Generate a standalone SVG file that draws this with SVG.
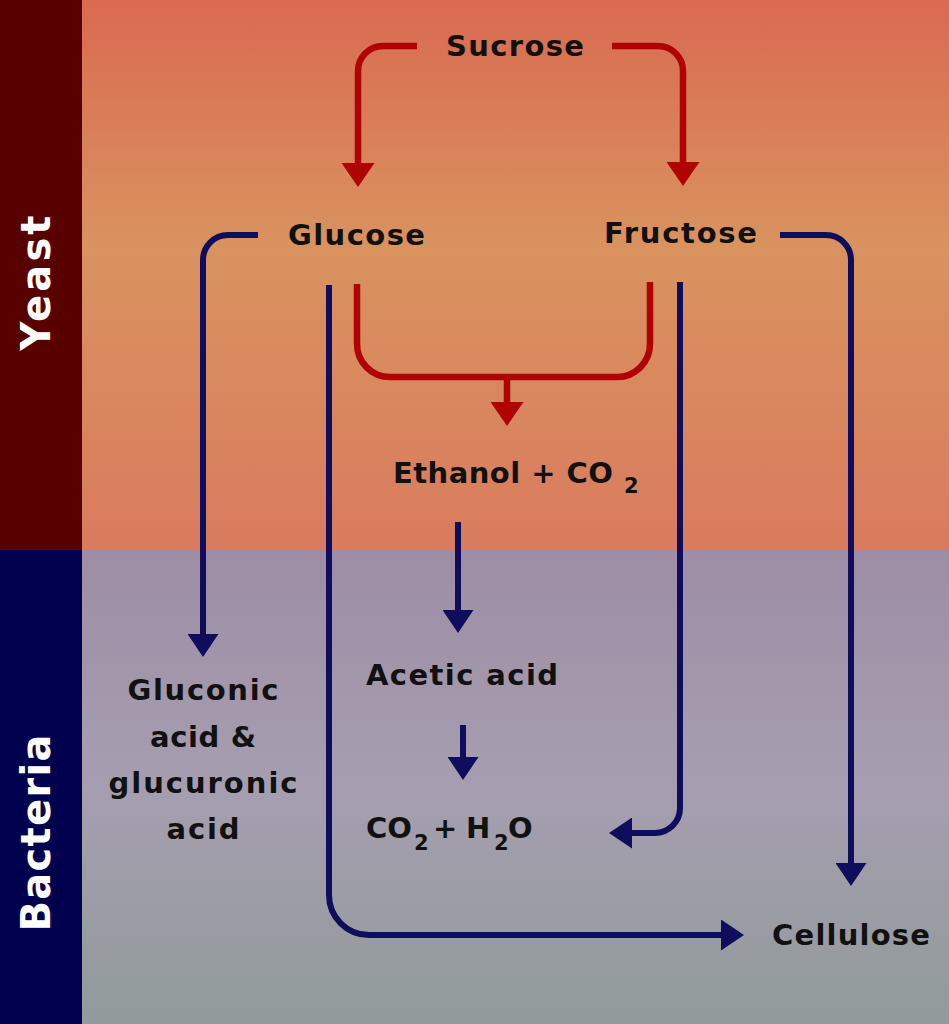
<svg xmlns="http://www.w3.org/2000/svg" width="949" height="1024" viewBox="0 0 949 1024">
<style>
.lbl{font-family:"DejaVu Sans","Open Sans",sans-serif;font-weight:700;font-size:29px;fill:#111}
.sub{font-size:21px}
.side{font-family:"DejaVu Sans","Open Sans",sans-serif;font-weight:700;font-size:40px;fill:#fff}
.red{fill:none;stroke:#b00303;stroke-width:6.5}
.navy{fill:none;stroke:#0e0e5c;stroke-width:6}
</style>
<defs>
<linearGradient id="gY" x1="0" y1="0" x2="0" y2="550" gradientUnits="userSpaceOnUse">
<stop offset="0" stop-color="#d96a51"/>
<stop offset="0.45" stop-color="#d9935f"/>
<stop offset="1" stop-color="#d97b5e"/>
</linearGradient>
<linearGradient id="gB" x1="0" y1="550" x2="0" y2="1024" gradientUnits="userSpaceOnUse">
<stop offset="0" stop-color="#9d8da5"/>
<stop offset="0.5" stop-color="#a69eb0"/>
<stop offset="1" stop-color="#919b9a"/>
</linearGradient>
<marker id="aR" viewBox="0 0 24 33" markerUnits="userSpaceOnUse" markerWidth="24" markerHeight="33" refX="1" refY="16.5" orient="auto">
<path d="M0,0 L24,16.5 L0,33 Z" fill="#b00303"/>
</marker>
<marker id="aN" viewBox="0 0 23 31" markerUnits="userSpaceOnUse" markerWidth="23" markerHeight="31" refX="1" refY="15.5" orient="auto">
<path d="M0,0 L23,15.5 L0,31 Z" fill="#0e0e5c"/>
</marker>
</defs>
<g id="background">
<rect x="82" y="0" width="867" height="550" fill="url(#gY)"/>
<rect x="82" y="550" width="867" height="474" fill="url(#gB)"/>
<rect x="0" y="0" width="82" height="550" fill="#580000"/>
<rect x="0" y="550" width="82" height="474" fill="#00004f"/>
</g>
<g id="side-labels">
<text id="yeast" class="side" text-anchor="middle" transform="translate(50 283) rotate(-90)" textLength="135">Yeast</text>
<text id="bacteria" class="side" text-anchor="middle" transform="translate(50 833) rotate(-90)" textLength="197">Bacteria</text>
</g>
<g id="connectors">
<path class="red" d="M417,46 H383 A25,25 0 0 0 358,71 V164" marker-end="url(#aR)"/>
<path class="red" d="M612,46 H658 A25,25 0 0 1 683,71 V163" marker-end="url(#aR)"/>
<path class="red" d="M357,284 V344 A33,33 0 0 0 390,377 H617 A33,33 0 0 0 650,344 V282"/>
<path class="red" d="M507,377 V403" marker-end="url(#aR)"/>
<path class="navy" d="M258,235 H228 A25,25 0 0 0 203,260 V635" marker-end="url(#aN)"/>
<path class="navy" d="M329,285 V895 A40,40 0 0 0 369,935 H722" marker-end="url(#aN)"/>
<path class="navy" d="M680,282 V808 A25,25 0 0 1 655,833 H631" marker-end="url(#aN)"/>
<path class="navy" d="M780,235 H826 A25,25 0 0 1 851,260 V864" marker-end="url(#aN)"/>
<path class="navy" d="M458,522 V611" marker-end="url(#aN)"/>
<path class="navy" d="M463,725 V758" marker-end="url(#aN)"/>
</g>
<g id="sucrose"><text class="lbl" x="446" y="56" textLength="138">Sucrose</text></g>
<g id="glucose"><text class="lbl" x="288" y="245" textLength="137">Glucose</text></g>
<g id="fructose"><text class="lbl" x="604" y="243" textLength="153">Fructose</text></g>
<g id="ethanol">
<text class="lbl" x="393" y="483" textLength="220">Ethanol + CO</text>
<text class="lbl sub" x="624" y="493">2</text>
</g>
<g id="acetic"><text class="lbl" x="366" y="685" textLength="192">Acetic acid</text></g>
<g id="co2h2o">
<text class="lbl" x="366" y="838">CO</text>
<text class="lbl sub" x="414" y="850">2</text>
<text class="lbl" x="433" y="838">+</text>
<text class="lbl" x="466" y="838">H</text>
<text class="lbl sub" x="494" y="850">2</text>
<text class="lbl" x="508" y="838">O</text>
</g>
<g id="gluconic" text-anchor="middle">
<text class="lbl" x="203" y="700" textLength="151">Gluconic</text>
<text class="lbl" x="203" y="747" textLength="106">acid &amp;</text>
<text class="lbl" x="203" y="793" textLength="189">glucuronic</text>
<text class="lbl" x="203" y="839" textLength="73">acid</text>
</g>
<g id="cellulose"><text class="lbl" x="772" y="945" textLength="158">Cellulose</text></g>
</svg>
